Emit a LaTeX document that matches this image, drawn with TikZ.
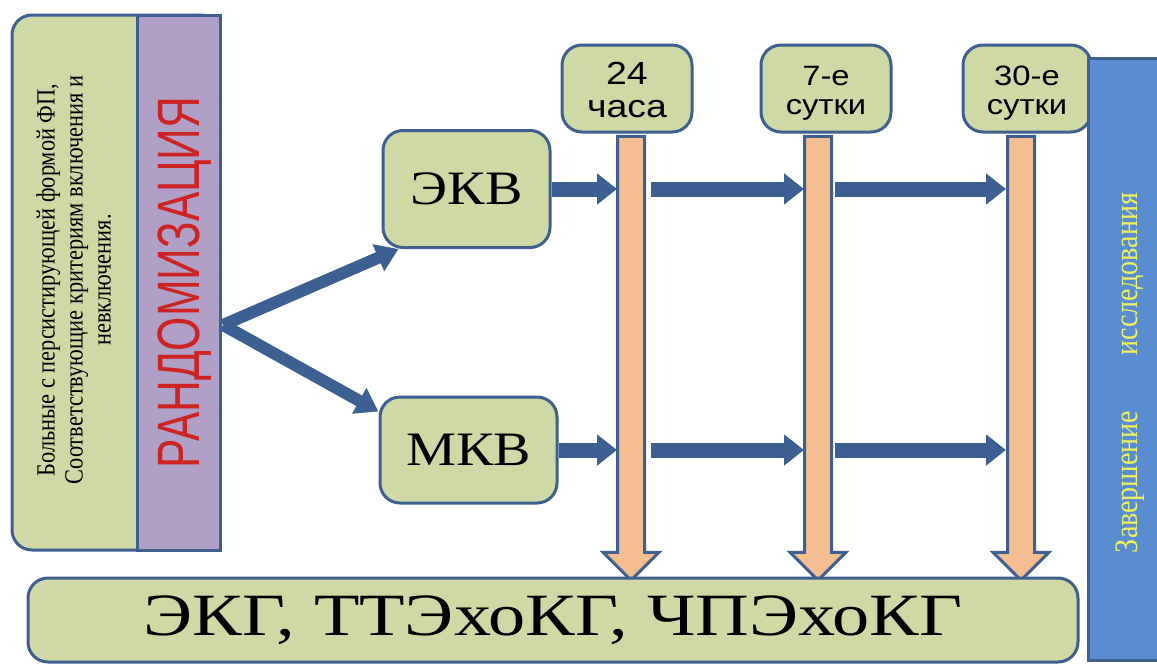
\documentclass[tikz,border=0pt]{standalone}
\usepackage{fontspec}
\setmainfont{Liberation Serif}
\newfontfamily\arial{Liberation Sans}
\usetikzlibrary{arrows.meta, positioning, shapes.arrows, calc}

\definecolor{ramka}{RGB}{62,96,145}
\definecolor{zelen}{RGB}{207,217,166}
\definecolor{lilac}{RGB}{176,160,200}
\definecolor{persik}{RGB}{245,190,145}
\definecolor{sinij}{RGB}{60,96,146}
\definecolor{goluboj}{RGB}{90,140,210}
\definecolor{zhelt}{RGB}{238,242,95}
\definecolor{krasn}{RGB}{205,35,35}

% shrift chut' shire, kak na slajde
\newcommand{\shire}[1]{\scalebox{1.17}[1]{#1}}
\newcommand{\vyshe}[1]{\scalebox{1}[1.17]{#1}}
\newcommand{\nizhe}[1]{\raisebox{-3pt}[\height][\depth]{#1}}

\begin{document}
\begin{tikzpicture}[x=0.5pt, y=-0.5pt,
        blok/.style={draw=ramka, line width=1.5pt, fill=zelen, rounded corners=10pt, inner sep=0pt, align=center},
        polosa/.style={single arrow, draw=ramka, line width=1.5pt, fill=persik, rotate=-90, minimum height=222pt, inner xsep=0pt, inner ysep=6pt, single arrow head extend=7.25pt},
        vetka/.style={-{Triangle[width=14pt,length=11pt]}, line width=6pt, draw=sinij},
        shag/.style={-{Triangle[width=15pt,length=10pt]}, line width=7.5pt, draw=sinij}
    ]
        \useasboundingbox (0,0) rectangle (1157,664);

        % levyj blok: bol'nye + randomizacija
        \node[blok, minimum width=104pt, minimum height=267.5pt] (gruppa) at (116,282.5) {};
        \node[rotate=90] (bolnye) at (77,280) {\vyshe{\fontsize{11.2}{12}\selectfont\begin{tabular}{@{}c@{}}Больные с персистирующей формой ФП,\\Соответствующие критериям включения и\\невключения.\end{tabular}}};
        \node[draw=ramka, line width=1.5pt, fill=lilac, rotate=90, minimum width=267.5pt, minimum height=41.5pt, inner sep=0pt, text depth=0pt, text=krasn] (random) at (178.5,282.5) {\scalebox{1}[1.36]{\arial\fontsize{22}{22}\selectfont РАНДОМИЗАЦИЯ}};

        % gruppy
        \node[blok, minimum width=83.5pt, minimum height=58.5pt] (ekv) at (466.5,189) {\shire{\fontsize{24}{24}\selectfont ЭКВ}};
        \node[blok, minimum width=88.5pt, minimum height=53pt] (mkv) at (468.5,450) {\shire{\fontsize{24}{24}\selectfont МКВ}};

        % kontrol'nye tochki
        \node[blok, minimum width=65pt, minimum height=43.5pt] (chas24) at (627,88.5) {\nizhe{\shire{\arial\fontsize{16}{16.5}\selectfont\begin{tabular}{@{}c@{}}24\\часа\end{tabular}}}};
        \node[blok, minimum width=65pt, minimum height=43.5pt, right=33pt of chas24] (sut7) {\nizhe{\shire{\arial\fontsize{14}{14.5}\selectfont\begin{tabular}{@{}c@{}}7-е\\сутки\end{tabular}}}};
        \node[blok, minimum width=64pt, minimum height=43.5pt, right=34.5pt of sut7] (sut30) {\nizhe{\shire{\arial\fontsize{14}{14.5}\selectfont\begin{tabular}{@{}c@{}}30-е\\сутки\end{tabular}}}};

        \node[polosa] (strelka24) at (631,351.5) {};
        \node[polosa] (strelka7) at (818,351.5) {};
        \node[polosa] (strelka30) at (1021,351.5) {};

        % obsledovanie
        \node[blok, minimum width=525pt, minimum height=42pt] (itog) at (553,620) {\scalebox{1.24}[1]{\fontsize{30}{30}\selectfont ЭКГ, ТТЭхоКГ, ЧПЭхоКГ}};

        \node[draw=ramka, line width=1.5pt, fill=goluboj, minimum width=46pt, minimum height=301pt, inner sep=0pt] (zaversh) at (1134,359) {};
        \node[rotate=90, text=zhelt] (zavershtekst) at (1130,373) {\vyshe{\fontsize{14}{14}\selectfont\makebox[180pt][s]{Завершение исследования}}};

        % strelki
        \coordinate (razvilka) at (223,325);
        \draw[vetka] (razvilka) -- ([xshift=8.5pt]ekv.south west);
        \draw[vetka] (razvilka) -- ([yshift=-8pt]mkv.north west);

        \draw[shag] (ekv.east) -- ($(ekv.east -| strelka24)+(-7pt,0)$);
        \draw[shag] ($(ekv.east -| strelka24)+(10pt,0)$) -- ($(ekv.east -| strelka7)+(-7pt,0)$);
        \draw[shag] ($(ekv.east -| strelka7)+(8.5pt,0)$) -- ($(ekv.east -| strelka30)+(-7.5pt,0)$);
        \draw[shag] (mkv.east) -- ($(mkv.east -| strelka24)+(-7pt,0)$);
        \draw[shag] ($(mkv.east -| strelka24)+(10pt,0)$) -- ($(mkv.east -| strelka7)+(-7pt,0)$);
        \draw[shag] ($(mkv.east -| strelka7)+(8.5pt,0)$) -- ($(mkv.east -| strelka30)+(-7.5pt,0)$);
    \end{tikzpicture}
\end{document}
